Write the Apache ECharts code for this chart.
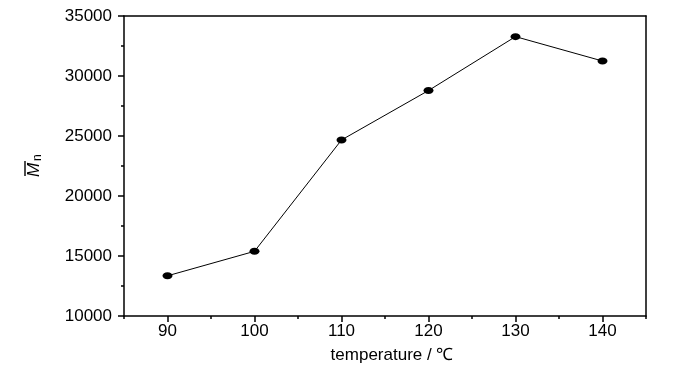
<!DOCTYPE html>
<html>
<head>
<meta charset="utf-8">
<script src="https://cdn.jsdelivr.net/npm/echarts@6/dist/echarts.min.js"></script>
<style>html,body{margin:0;padding:0;background:#fff;}#c{width:700px;height:373px;}</style>
</head>
<body>
<div id="c"></div>
<script>
const temperatures = [90, 100, 110, 120, 130, 140];
const mnValues = [13350, 15390, 24670, 28790, 33280, 31250];
const xMajorTicks = [90, 100, 110, 120, 130, 140];
const xMinorTicks = [85, 95, 105, 115, 125, 135, 145];
const xTitle = 'temperature / ℃';

const chart = echarts.init(document.getElementById('c'), null, {renderer: 'canvas'});
const font = '"Liberation Sans", Arial, sans-serif';
const lineStyle = {color: '#000', width: 1.5};
chart.setOption({
  animation: false,
  backgroundColor: '#fff',
  grid: {left: 124, right: 54, top: 16, bottom: 57, containLabel: false},
  xAxis: [
    {
      type: 'value', min: 85, max: 145, position: 'bottom',
      axisLine: {show: true, lineStyle: lineStyle},
      axisTick: {show: true, length: 6, lineStyle: lineStyle, customValues: xMajorTicks},
      axisLabel: {show: true, customValues: xMajorTicks, fontSize: 17, color: '#000', fontFamily: font, margin: 7},
      splitLine: {show: false},
      name: xTitle, nameLocation: 'middle', nameGap: 31,
      nameTextStyle: {fontSize: 17, color: '#000', fontFamily: font, padding: [0, 0, 0, 14]}
    },
    {
      type: 'value', min: 85, max: 145, position: 'bottom',
      axisLine: {show: false},
      axisTick: {show: true, length: 3, lineStyle: lineStyle, customValues: xMinorTicks},
      axisLabel: {show: false},
      splitLine: {show: false}
    },
    {
      type: 'value', min: 85, max: 145, position: 'top',
      axisLine: {show: true, lineStyle: lineStyle},
      axisTick: {show: false}, axisLabel: {show: false}, splitLine: {show: false}
    }
  ],
  yAxis: [
    {
      type: 'value', min: 10000, max: 35000, interval: 5000, position: 'left',
      axisLine: {show: true, lineStyle: lineStyle},
      axisTick: {show: true, length: 6, lineStyle: lineStyle},
      minorTick: {show: true, splitNumber: 2, length: 3, lineStyle: lineStyle},
      axisLabel: {fontSize: 17, color: '#000', fontFamily: font, margin: 12, formatter: v => String(v)},
      splitLine: {show: false}
    },
    {
      type: 'value', min: 10000, max: 35000, position: 'right',
      axisLine: {show: true, lineStyle: lineStyle},
      axisTick: {show: false}, axisLabel: {show: false}, splitLine: {show: false}
    }
  ],
  graphic: [
    {
      type: 'group', x: 43, y: 177, rotation: Math.PI / 2,
      children: [
        {type: 'text', x: 0, y: 0, style: {text: 'M', font: 'italic 17px "Liberation Sans", Arial, sans-serif', fill: '#000', textVerticalAlign: 'bottom'}},
        {type: 'line', shape: {x1: 1, y1: -18, x2: 16, y2: -18}, style: {stroke: '#000', lineWidth: 1.4}},
        {type: 'text', x: 16, y: 1, style: {text: 'n', font: '12px "Liberation Sans", Arial, sans-serif', fill: '#000', textVerticalAlign: 'bottom'}}
      ]
    }
  ],
  series: [{
    type: 'line', xAxisIndex: 0, yAxisIndex: 0,
    data: temperatures.map((t, i) => [t, mnValues[i]]),
    symbol: 'circle', symbolSize: [10, 7],
    itemStyle: {color: '#000'},
    lineStyle: {color: '#000', width: 1}
  }]
});
</script>
</body>
</html>
